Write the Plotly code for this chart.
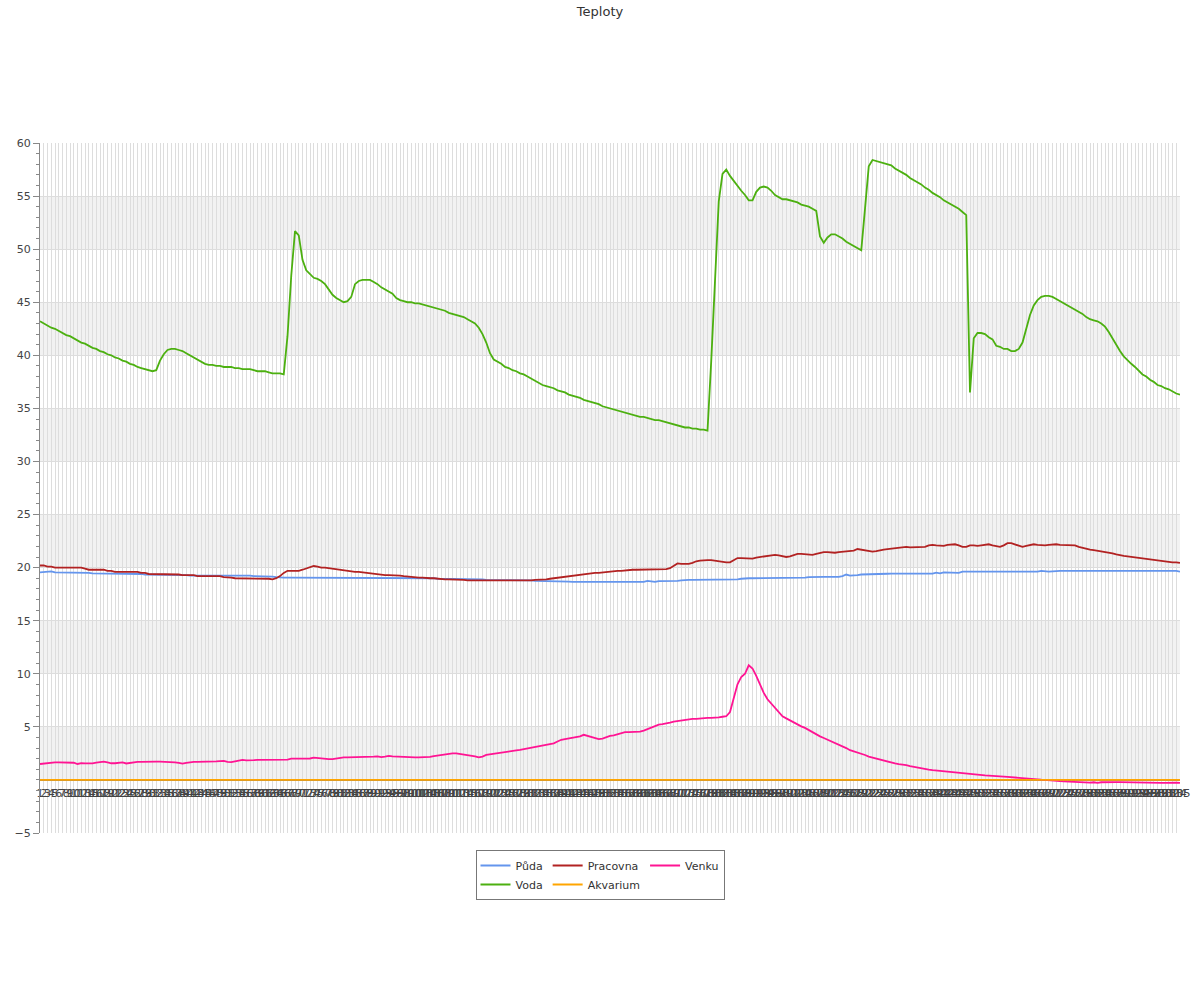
import plotly.graph_objects as go

# ---------------- data ----------------
labels = [str(i) for i in range(1, 306)]

puda = [
    19.55, 19.6, 19.65, 19.65, 19.55, 19.55, 19.55, 19.55, 19.55, 19.55,
    19.55, 19.55, 19.55, 19.5, 19.45, 19.45, 19.45, 19.45, 19.45, 19.45,
    19.45, 19.45, 19.45, 19.45, 19.45, 19.45, 19.45, 19.4, 19.35, 19.35,
    19.35, 19.35, 19.35, 19.35, 19.35, 19.35, 19.35, 19.35, 19.35, 19.3,
    19.25, 19.25, 19.25, 19.25, 19.25, 19.25, 19.25, 19.25, 19.25, 19.25,
    19.25, 19.3, 19.25, 19.25, 19.25, 19.28, 19.25, 19.2, 19.2, 19.2,
    19.2, 19.15, 19.15, 19.1, 19.05, 19.05, 19.05, 19.05, 19.05, 19.05,
    19.05, 19.05, 19.05, 19.05, 19.05, 19.05, 19.05, 19.05, 19.05, 19.05,
    19.05, 19.05, 19.05, 19.05, 19.05, 19.05, 19.05, 19.05, 19.05, 19.05,
    19.05, 19.05, 19.05, 19.05, 19.05, 19.05, 19.0, 19.0, 19.0, 19.0,
    19.0, 19.0, 19.0, 19.0, 19.0, 19.0, 18.95, 18.95, 18.95, 18.95,
    18.95, 18.9, 18.9, 18.9, 18.9, 18.9, 18.9, 18.9, 18.9, 18.85,
    18.85, 18.85, 18.85, 18.85, 18.85, 18.85, 18.8, 18.8, 18.8, 18.8,
    18.8, 18.8, 18.75, 18.75, 18.75, 18.7, 18.75, 18.7, 18.68, 18.68,
    18.68, 18.68, 18.65, 18.65, 18.65, 18.65, 18.65, 18.6, 18.6, 18.6,
    18.6, 18.6, 18.6, 18.6, 18.6, 18.6, 18.6, 18.6, 18.6, 18.6,
    18.6, 18.65, 18.75, 18.68, 18.65, 18.72, 18.72, 18.75, 18.75, 18.75,
    18.75, 18.8, 18.85, 18.85, 18.85, 18.85, 18.85, 18.85, 18.85, 18.85,
    18.85, 18.85, 18.85, 18.85, 18.85, 18.85, 18.9, 18.95, 19.0, 19.0,
    19.0, 19.0, 19.0, 19.0, 19.0, 19.0, 19.0, 19.0, 19.0, 19.0,
    19.0, 19.0, 19.0, 19.0, 19.05, 19.1, 19.12, 19.12, 19.12, 19.12,
    19.12, 19.12, 19.12, 19.12, 19.2, 19.35, 19.25, 19.25, 19.3, 19.35,
    19.35, 19.38, 19.4, 19.4, 19.4, 19.4, 19.42, 19.43, 19.43, 19.43,
    19.43, 19.43, 19.43, 19.43, 19.43, 19.43, 19.43, 19.43, 19.43, 19.52,
    19.45, 19.55, 19.55, 19.55, 19.55, 19.5, 19.62, 19.62, 19.62, 19.62,
    19.62, 19.62, 19.62, 19.62, 19.62, 19.62, 19.62, 19.62, 19.62, 19.62,
    19.62, 19.62, 19.62, 19.62, 19.62, 19.62, 19.62, 19.7, 19.65, 19.62,
    19.65, 19.7, 19.7, 19.7, 19.7, 19.7, 19.7, 19.7, 19.65, 19.7,
    19.7, 19.7, 19.7, 19.7, 19.7, 19.7, 19.7, 19.65, 19.7, 19.7,
    19.7, 19.7, 19.7, 19.7, 19.7, 19.7, 19.7, 19.7, 19.7, 19.7,
    19.7, 19.7, 19.7, 19.7, 19.62,
]

voda = [
    43.2, 43.0, 42.8, 42.6, 42.5, 42.3, 42.1, 41.9, 41.8, 41.6,
    41.4, 41.2, 41.1, 40.9, 40.7, 40.6, 40.4, 40.3, 40.1, 40.0,
    39.8, 39.7, 39.5, 39.4, 39.2, 39.1, 38.9, 38.8, 38.7, 38.6,
    38.5, 38.6, 39.5, 40.1, 40.5, 40.6, 40.6, 40.5, 40.4, 40.2,
    40.0, 39.8, 39.6, 39.4, 39.2, 39.1, 39.1, 39.0, 39.0, 38.9,
    38.9, 38.9, 38.8, 38.8, 38.7, 38.7, 38.7, 38.6, 38.5, 38.5,
    38.5, 38.4, 38.3, 38.3, 38.3, 38.2, 41.8, 47.5, 51.7, 51.3,
    49.0, 48.0, 47.6, 47.3, 47.2, 47.0, 46.7, 46.2, 45.7, 45.4,
    45.2, 45.0, 45.1, 45.5, 46.7, 47.0, 47.1, 47.1, 47.1, 46.9,
    46.7, 46.4, 46.2, 46.0, 45.8, 45.4, 45.2, 45.1, 45.0, 45.0,
    44.9, 44.9, 44.8, 44.7, 44.6, 44.5, 44.4, 44.3, 44.2, 44.0,
    43.9, 43.8, 43.7, 43.6, 43.4, 43.2, 43.0, 42.6, 42.0, 41.2,
    40.2, 39.6, 39.4, 39.2, 38.9, 38.8, 38.6, 38.5, 38.3, 38.2,
    38.0, 37.8, 37.6, 37.4, 37.2, 37.1, 37.0, 36.9, 36.7, 36.6,
    36.5, 36.3, 36.2, 36.1, 36.0, 35.8, 35.7, 35.6, 35.5, 35.4,
    35.2, 35.1, 35.0, 34.9, 34.8, 34.7, 34.6, 34.5, 34.4, 34.3,
    34.2, 34.2, 34.1, 34.0, 33.9, 33.9, 33.8, 33.7, 33.6, 33.5,
    33.4, 33.3, 33.2, 33.2, 33.1, 33.1, 33.0, 33.0, 32.9, 39.5,
    47.5, 54.5, 57.1, 57.5, 56.9, 56.4, 55.9, 55.5, 55.1, 54.6,
    54.6, 55.4, 55.8, 55.9, 55.8, 55.5, 55.1, 54.9, 54.7, 54.7,
    54.6, 54.5, 54.4, 54.2, 54.1, 54.0, 53.8, 53.6, 51.2, 50.6,
    51.1, 51.4, 51.4, 51.2, 51.0, 50.7, 50.5, 50.3, 50.1, 49.9,
    53.8, 57.8, 58.4, 58.3, 58.2, 58.1, 58.0, 57.9, 57.6, 57.4,
    57.2, 57.0, 56.7, 56.5, 56.3, 56.1, 55.8, 55.6, 55.3, 55.1,
    54.9, 54.6, 54.4, 54.2, 54.0, 53.8, 53.5, 53.2, 36.5, 41.6,
    42.1, 42.1, 42.0, 41.7, 41.5, 40.9, 40.8, 40.6, 40.6, 40.4,
    40.4, 40.6, 41.2, 42.5, 43.8, 44.7, 45.2, 45.5, 45.6, 45.6,
    45.5, 45.3, 45.1, 44.9, 44.7, 44.5, 44.3, 44.1, 43.9, 43.6,
    43.4, 43.3, 43.2, 43.0, 42.7, 42.2, 41.6, 40.9, 40.4, 39.9,
    39.5, 39.2, 38.9, 38.5, 38.2, 38.0, 37.7, 37.5, 37.2, 37.1,
    36.9, 36.8, 36.6, 36.4, 36.3,
]

pracovna = [
    20.2, 20.2, 20.1, 20.1, 20.0, 20.0, 20.0, 20.0, 20.0, 20.0,
    20.0, 20.0, 19.9, 19.8, 19.8, 19.8, 19.8, 19.8, 19.7, 19.7,
    19.6, 19.6, 19.6, 19.6, 19.6, 19.6, 19.6, 19.5, 19.5, 19.4,
    19.4, 19.4, 19.4, 19.4, 19.4, 19.4, 19.4, 19.35, 19.3, 19.3,
    19.3, 19.3, 19.2, 19.2, 19.2, 19.2, 19.2, 19.2, 19.2, 19.1,
    19.1, 19.05, 19.0, 19.0, 19.0, 19.0, 19.0, 19.0, 19.0, 19.0,
    19.0, 18.95, 18.9, 19.0, 19.2, 19.5, 19.7, 19.7, 19.7, 19.7,
    19.8, 19.9, 20.0, 20.15, 20.1, 20.0, 20.0, 19.95, 19.9, 19.85,
    19.8, 19.7, 19.7, 19.65, 19.6, 19.6, 19.55, 19.5, 19.45, 19.4,
    19.4, 19.35, 19.3, 19.3, 19.3, 19.3, 19.25, 19.2, 19.15, 19.1,
    19.1, 19.05, 19.05, 19.0, 19.0, 19.0, 18.95, 18.95, 18.9, 18.9,
    18.9, 18.85, 18.85, 18.85, 18.8, 18.8, 18.75, 18.75, 18.8, 18.8,
    18.75, 18.75, 18.75, 18.75, 18.75, 18.75, 18.75, 18.75, 18.75, 18.75,
    18.8, 18.8, 18.85, 18.85, 18.9, 18.9, 18.95, 19.0, 19.05, 19.1,
    19.15, 19.2, 19.25, 19.3, 19.35, 19.4, 19.45, 19.45, 19.5, 19.5,
    19.55, 19.6, 19.6, 19.65, 19.7, 19.7, 19.75, 19.75, 19.8, 19.8,
    19.8, 19.8, 19.85, 19.85, 19.8, 19.8, 19.85, 19.85, 19.95, 20.2,
    20.4, 20.35, 20.35, 20.35, 20.45, 20.6, 20.65, 20.7, 20.7, 20.7,
    20.65, 20.55, 20.5, 20.5, 20.5, 20.7, 20.9, 20.9, 20.9, 20.85,
    20.85, 20.95, 21.0, 21.05, 21.05, 21.1, 21.2, 21.15, 21.05, 21.0,
    21.05, 21.2, 21.3, 21.3, 21.25, 21.25, 21.2, 21.3, 21.4, 21.45,
    21.45, 21.4, 21.4, 21.45, 21.5, 21.55, 21.55, 21.6, 21.75, 21.7,
    21.6, 21.55, 21.5, 21.55, 21.65, 21.7, 21.75, 21.8, 21.85, 21.9,
    21.95, 21.95, 21.9, 21.9, 21.9, 21.9, 21.95, 22.1, 22.15, 22.1,
    22.05, 22.05, 22.15, 22.2, 22.2, 22.1, 21.95, 21.95, 22.1, 22.1,
    22.05, 22.1, 22.15, 22.2, 22.1, 22.0, 21.95, 22.1, 22.3, 22.3,
    22.2, 22.1, 21.95, 22.05, 22.15, 22.2, 22.15, 22.1, 22.1, 22.15,
    22.2, 22.2, 22.15, 22.15, 22.15, 22.15, 22.1, 21.95, 21.85, 21.8,
    21.7, 21.65, 21.6, 21.55, 21.5, 21.45, 21.35, 21.25, 21.15, 21.1,
    21.05, 21.0, 20.95, 20.9, 20.85, 20.8, 20.75, 20.7, 20.65, 20.6,
    20.6, 20.55, 20.5, 20.5, 20.45,
]

akvarium = [
    0, 0, 0, 0, 0, 0, 0, 0, 0, 0, 0, 0, 0, 0, 0, 0, 0, 0, 0, 0,
    0, 0, 0, 0, 0, 0, 0, 0, 0, 0, 0, 0, 0, 0, 0, 0, 0, 0, 0, 0,
    0, 0, 0, 0, 0, 0, 0, 0, 0, 0, 0, 0, 0, 0, 0, 0, 0, 0, 0, 0,
    0, 0, 0, 0, 0, 0, 0, 0, 0, 0, 0, 0, 0, 0, 0, 0, 0, 0, 0, 0,
    0, 0, 0, 0, 0, 0, 0, 0, 0, 0, 0, 0, 0, 0, 0, 0, 0, 0, 0, 0,
    0, 0, 0, 0, 0, 0, 0, 0, 0, 0, 0, 0, 0, 0, 0, 0, 0, 0, 0, 0,
    0, 0, 0, 0, 0, 0, 0, 0, 0, 0, 0, 0, 0, 0, 0, 0, 0, 0, 0, 0,
    0, 0, 0, 0, 0, 0, 0, 0, 0, 0, 0, 0, 0, 0, 0, 0, 0, 0, 0, 0,
    0, 0, 0, 0, 0, 0, 0, 0, 0, 0, 0, 0, 0, 0, 0, 0, 0, 0, 0, 0,
    0, 0, 0, 0, 0, 0, 0, 0, 0, 0, 0, 0, 0, 0, 0, 0, 0, 0, 0, 0,
    0, 0, 0, 0, 0, 0, 0, 0, 0, 0, 0, 0, 0, 0, 0, 0, 0, 0, 0, 0,
    0, 0, 0, 0, 0, 0, 0, 0, 0, 0, 0, 0, 0, 0, 0, 0, 0, 0, 0, 0,
    0, 0, 0, 0, 0, 0, 0, 0, 0, 0, 0, 0, 0, 0, 0, 0, 0, 0, 0, 0,
    0, 0, 0, 0, 0, 0, 0, 0, 0, 0, 0, 0, 0, 0, 0, 0, 0, 0, 0, 0,
    0, 0, 0, 0, 0, 0, 0, 0, 0, 0, 0, 0, 0, 0, 0, 0, 0, 0, 0, 0,
    0, 0, 0, 0, 0,
]

venku = [
    1.5, 1.55, 1.62, 1.66, 1.66, 1.66, 1.66, 1.66, 1.66, 1.62,
    1.5, 1.58, 1.55, 1.53, 1.55, 1.62, 1.7, 1.73, 1.65, 1.57,
    1.57, 1.6, 1.66, 1.55, 1.62, 1.68, 1.7, 1.7, 1.72, 1.73,
    1.72, 1.72, 1.72, 1.72, 1.72, 1.72, 1.65, 1.6, 1.53, 1.6,
    1.68, 1.7, 1.7, 1.7, 1.7, 1.72, 1.72, 1.75, 1.78, 1.79,
    1.7, 1.68, 1.75, 1.83, 1.88, 1.84, 1.82, 1.86, 1.88, 1.89,
    1.89, 1.89, 1.89, 1.89, 1.89, 1.89, 1.92, 2.0, 2.0, 2.0,
    2.0, 2.0, 2.02, 2.1, 2.05, 2.0, 1.98, 1.96, 1.95, 2.02,
    2.1, 2.13, 2.13, 2.13, 2.13, 2.13, 2.13, 2.13, 2.15, 2.2,
    2.22, 2.15, 2.2, 2.26, 2.22, 2.2, 2.18, 2.13, 2.13, 2.13,
    2.13, 2.13, 2.13, 2.13, 2.18, 2.25, 2.3, 2.35, 2.42, 2.5,
    2.51, 2.5, 2.45, 2.38, 2.35, 2.32, 2.22, 2.12, 2.2, 2.36,
    2.42, 2.48, 2.52, 2.58, 2.65, 2.7, 2.74, 2.78, 2.83, 2.9,
    2.98, 3.05, 3.1, 3.15, 3.22, 3.27, 3.35, 3.45, 3.62, 3.78,
    3.85, 3.92, 3.95, 4.0, 4.1, 4.25, 4.15, 4.1, 3.95, 3.85,
    3.9, 4.05, 4.15, 4.2, 4.3, 4.45, 4.5, 4.5, 4.5, 4.5,
    4.55, 4.65, 4.8, 4.95, 5.1, 5.2, 5.25, 5.3, 5.4, 5.5,
    5.55, 5.6, 5.7, 5.75, 5.75, 5.75, 5.8, 5.85, 5.85, 5.85,
    5.85, 5.9, 5.95, 6.0, 6.4, 7.7, 9.0, 9.7, 10.0, 10.8,
    10.5, 9.8, 9.0, 8.2, 7.6, 7.2, 6.7, 6.3, 6.0, 5.8,
    5.6, 5.4, 5.2, 5.05, 4.9, 4.7, 4.45, 4.25, 4.1, 3.95,
    3.8, 3.6, 3.45, 3.35, 3.2, 3.0, 2.8, 2.7, 2.55, 2.45,
    2.35, 2.2, 2.1, 2.0, 1.92, 1.85, 1.75, 1.62, 1.55, 1.48,
    1.45, 1.4, 1.3, 1.22, 1.15, 1.08, 1.02, 0.97, 0.92, 0.88,
    0.85, 0.83, 0.82, 0.78, 0.73, 0.7, 0.66, 0.6, 0.53, 0.48,
    0.45, 0.43, 0.42, 0.41, 0.4, 0.38, 0.35, 0.31, 0.28, 0.26,
    0.23, 0.2, 0.18, 0.15, 0.12, 0.1, 0.06, 0.02, -0.02, -0.05,
    -0.08, -0.1, -0.12, -0.14, -0.16, -0.18, -0.2, -0.22, -0.25, -0.28,
    -0.25, -0.22, -0.28, -0.22, -0.2, -0.2, -0.2, -0.2, -0.2, -0.2,
    -0.2, -0.2, -0.25, -0.2, -0.2, -0.2, -0.2, -0.2, -0.22, -0.27,
    -0.28, -0.26, -0.22, -0.25, -0.28,
]

y_ticks = [-5, 5, 10, 15, 20, 25, 30, 35, 40, 45, 50, 55, 60]
bands = [(0, 5), (10, 15), (20, 25), (30, 35), (40, 45), (50, 55)]

for s in (puda, voda, pracovna, akvarium, venku):
    assert len(s) == len(labels), len(s)

# ---------------- figure ----------------
FONT = "DejaVu Sans"
series = [
    ("Půda", puda, "#6495ED", "g1"),
    ("Pracovna", pracovna, "#B22222", "g2"),
    ("Venku", venku, "#FF1493", "g3"),
    ("Voda", voda, "#4CB010", "g1"),
    ("Akvarium", akvarium, "#FFA500", "g2"),
]

fig = go.Figure()
for name, vals, color, grp in series:
    fig.add_trace(go.Scatter(
        x=labels, y=vals, name=name, mode="lines",
        line=dict(color=color, width=1.8),
        legendgroup=grp,
    ))

for lo, hi in bands:
    fig.add_shape(type="rect", xref="paper", x0=0, x1=1, yref="y", y0=lo, y1=hi,
                  fillcolor="#f2f2f2", line=dict(width=0), layer="below")

fig.update_layout(
    width=1200, height=1000,
    margin=dict(l=40, r=20, t=143, b=167, autoexpand=False),
    paper_bgcolor="white", plot_bgcolor="white",
    font=dict(family=FONT, size=11, color="#444"),
    title=dict(text="Teploty", x=0.5, xanchor="center", xref="container",
               y=1 - 11 / 1000, yref="container", yanchor="middle",
               pad=dict(t=0, b=0, l=0, r=0), automargin=False,
               font=dict(family=FONT, size=13, color="#333")),
    showlegend=True,
    legend=dict(
        orientation="h", traceorder="grouped",
        xref="container", yref="container",
        x=0.5, xanchor="center", y=0.15, yanchor="top",
        bordercolor="#777", borderwidth=1, bgcolor="white",
        font=dict(family=FONT, size=11, color="#333"),
        tracegroupgap=0, itemwidth=30,
    ),
    xaxis=dict(
        type="category", range=[0, len(labels) - 1],
        tickmode="array", tickvals=labels, ticktext=labels, tickangle=0,
        showgrid=True, gridcolor="#dddddd", gridwidth=1,
        showline=True, linecolor="#888", linewidth=1,
        anchor="free", position=5 / 65, ticks="", ticklabelstandoff=3,
        zeroline=False, layer="below traces", automargin=False,
        tickfont=dict(family=FONT, size=11, color="#444"),
    ),
    yaxis=dict(
        range=[-5, 60], tickmode="array", tickvals=y_ticks,
        showgrid=True, gridcolor="#dddddd", gridwidth=1,
        showline=True, linecolor="#888", linewidth=1,
        ticks="outside", ticklen=6, tickcolor="#888",
        minor=dict(tickmode="linear", tick0=0, dtick=1, ticks="outside",
                   ticklen=3, tickcolor="#888", showgrid=False),
        zeroline=False, automargin=False,
        tickfont=dict(family=FONT, size=11, color="#444"),
    ),
)

fig.write_html("out.html", config={"displayModeBar": False},
               post_script="document.body.style.margin='0';")
